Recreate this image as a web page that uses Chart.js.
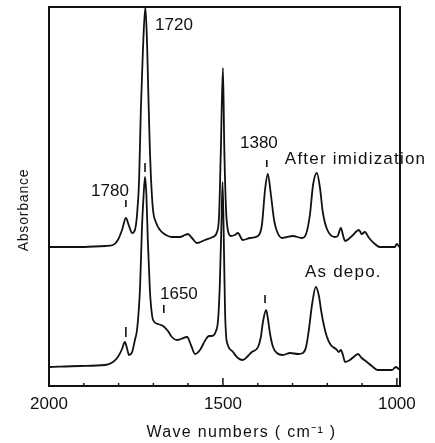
<!DOCTYPE html>
<html>
<head>
<meta charset="utf-8">
<script src="https://cdn.jsdelivr.net/npm/chart.js@4"></script>
<style>
  html, body { margin: 0; padding: 0; background: #fff; }
  .wrap { position: relative; width: 435px; height: 443px; }
</style>
</head>
<body>
<div class="wrap"><canvas id="spectrum"></canvas></div>
<script>
// IR spectra (wave number in cm-1, absorbance in arbitrary units)
const imidWave = [2000, 1911, 1839, 1816, 1802, 1790, 1779, 1770, 1761, 1753, 1747, 1741, 1736, 1730, 1723,
  1718, 1714, 1710, 1707, 1701, 1693, 1681, 1664, 1647, 1624, 1609, 1601, 1589, 1575, 1552, 1529, 1517, 1511,
  1506, 1500, 1496, 1491, 1486, 1477, 1466, 1457, 1443, 1422, 1399, 1388, 1379, 1371, 1362, 1353, 1345, 1330,
  1316, 1299, 1273, 1261, 1250, 1241, 1230, 1221, 1213, 1201, 1178, 1170, 1161, 1155, 1149, 1129, 1109, 1101,
  1092, 1080, 1063, 1049, 1006, 1000, 991];
const imidAbs = [1.39, 1.39, 1.40, 1.41, 1.46, 1.56, 1.68, 1.60, 1.53, 1.56, 1.71, 2.06, 2.76, 3.36, 3.79,
  3.41, 2.86, 2.36, 2.09, 1.76, 1.64, 1.56, 1.51, 1.49, 1.49, 1.51, 1.52, 1.48, 1.43, 1.46, 1.49, 1.54, 1.71,
  2.36, 3.18, 2.36, 1.76, 1.56, 1.50, 1.51, 1.53, 1.46, 1.48, 1.50, 1.61, 1.96, 2.12, 1.91, 1.66, 1.55, 1.48,
  1.49, 1.50, 1.48, 1.52, 1.71, 2.01, 2.13, 1.98, 1.74, 1.57, 1.49, 1.50, 1.58, 1.51, 1.45, 1.50, 1.56, 1.52,
  1.54, 1.48, 1.42, 1.39, 1.39, 1.42, 1.38];

const depoWave = [2000, 1911, 1839, 1816, 1802, 1790, 1782, 1776, 1770, 1761, 1753, 1747, 1741, 1738, 1733,
  1728, 1724, 1720, 1716, 1710, 1707, 1701, 1687, 1672, 1658, 1647, 1632, 1621, 1603, 1592, 1580, 1566, 1552,
  1540, 1532, 1520, 1514, 1509, 1504, 1501, 1497, 1494, 1491, 1486, 1471, 1457, 1443, 1428, 1417, 1399, 1391,
  1385, 1376, 1371, 1365, 1356, 1345, 1328, 1307, 1284, 1270, 1261, 1253, 1244, 1233, 1224, 1218, 1210, 1201,
  1190, 1175, 1167, 1161, 1155, 1149, 1135, 1121, 1112, 1101, 1086, 1072, 1055, 1014, 1003, 991];
const depoAbs = [0.19, 0.20, 0.21, 0.24, 0.29, 0.37, 0.44, 0.38, 0.31, 0.34, 0.46, 0.56, 0.81, 1.01, 1.56,
  1.91, 2.09, 1.91, 1.46, 0.96, 0.81, 0.66, 0.62, 0.60, 0.55, 0.49, 0.46, 0.47, 0.49, 0.41, 0.32, 0.36, 0.45,
  0.50, 0.50, 0.55, 0.66, 1.01, 1.66, 2.04, 1.36, 0.76, 0.51, 0.41, 0.34, 0.28, 0.26, 0.30, 0.34, 0.39, 0.49,
  0.64, 0.76, 0.68, 0.53, 0.39, 0.33, 0.31, 0.33, 0.32, 0.33, 0.39, 0.56, 0.81, 0.99, 0.90, 0.76, 0.61, 0.49,
  0.41, 0.37, 0.34, 0.36, 0.31, 0.24, 0.26, 0.30, 0.32, 0.28, 0.24, 0.20, 0.16, 0.16, 0.19, 0.16];

// axis ticks: marks every 100 cm-1, labels only at these
const tickValues = [2000, 1900, 1800, 1700, 1600, 1500, 1400, 1300, 1200, 1100, 1000];
const tickLabels = [2000, 1500, 1000];

// peak labels and the short marker lines (wave number, absorbance)
const noteText = ['1720', '1780', '1380', 'After imidization', '1650', 'As depo.'];
const noteWave = [1695, 1879, 1451, 1322, 1681, 1264];
const noteAbs = [3.61, 1.95, 2.43, 2.27, 0.92, 1.14];
const markWave = [1779, 1374, 1779, 1724, 1670, 1379];
const markTop = [1.86, 2.26, 0.59, 2.23, 0.81, 0.91];
const markBottom = [1.79, 2.19, 0.49, 2.14, 0.73, 0.83];

const INK = '#111';
const FONT = '"Liberation Sans", Arial, sans-serif';

const toPoints = (xs, ys) => xs.map((x, i) => ({ x, y: ys[i] }));

const decor = {
  id: 'decor',
  afterDraw(chart) {
    const { ctx, chartArea: area, scales: { x, y } } = chart;
    ctx.save();
    ctx.strokeStyle = INK;
    ctx.fillStyle = INK;

    // frame
    ctx.lineWidth = 2;
    ctx.strokeRect(area.left, area.top, area.right - area.left, area.bottom - area.top);

    // inward tick marks on the bottom axis
    ctx.lineWidth = 1.5;
    tickValues.forEach((v) => {
      const px = x.getPixelForValue(v);
      const len = tickLabels.includes(v) ? 8 : 3;
      ctx.beginPath();
      ctx.moveTo(px, area.bottom);
      ctx.lineTo(px, area.bottom - len);
      ctx.stroke();
    });

    // marker lines over the peaks
    ctx.lineWidth = 1.6;
    markWave.forEach((w, i) => {
      const px = x.getPixelForValue(w);
      ctx.beginPath();
      ctx.moveTo(px, y.getPixelForValue(markTop[i]));
      ctx.lineTo(px, y.getPixelForValue(markBottom[i]));
      ctx.stroke();
    });

    // peak and curve labels
    ctx.textAlign = 'left';
    ctx.textBaseline = 'middle';
    noteText.forEach((t, i) => {
      const isWord = /[a-z]/i.test(t);
      ctx.font = '17px ' + FONT;
      ctx.letterSpacing = isWord ? '1.2px' : '0px';
      ctx.fillText(t, x.getPixelForValue(noteWave[i]), y.getPixelForValue(noteAbs[i]));
    });

    // axis titles
    ctx.letterSpacing = '1.3px';
    ctx.font = '16px ' + FONT;
    ctx.textAlign = 'center';
    ctx.textBaseline = 'alphabetic';
    ctx.fillText('Wave numbers ( cm\u207B\u00B9 )', (area.left + area.right) / 2 + 17, chart.height - 6);

    ctx.letterSpacing = '0.8px';
    ctx.font = '14px ' + FONT;
    ctx.translate(28, 210);
    ctx.rotate(-Math.PI / 2);
    ctx.textBaseline = 'alphabetic';
    ctx.fillText('Absorbance', 0, 0);
    ctx.restore();
  }
};

const lineStyle = {
  borderColor: INK,
  borderWidth: 1.8,
  pointRadius: 0,
  fill: false,
  cubicInterpolationMode: 'monotone'
};

new Chart(document.getElementById('spectrum'), {
  type: 'line',
  data: {
    datasets: [
      { label: 'After imidization', data: toPoints(imidWave, imidAbs), ...lineStyle },
      { label: 'As depo.', data: toPoints(depoWave, depoAbs), ...lineStyle }
    ]
  },
  options: {
    responsive: true,
    maintainAspectRatio: false,
    animation: false,
    layout: { padding: { left: 49, top: 7, right: 35, bottom: 0 } },
    plugins: { legend: { display: false }, tooltip: { enabled: false } },
    scales: {
      x: {
        type: 'linear',
        reverse: true,
        min: 991,
        max: 2000,
        afterBuildTicks: (scale) => { scale.ticks = tickLabels.map((v) => ({ value: v })); },
        afterFit: (scale) => { scale.height = 57; },
        grid: { display: false, drawTicks: false },
        border: { display: false },
        ticks: {
          autoSkip: false,
          maxRotation: 0,
          padding: 8,
          color: INK,
          font: { family: FONT, size: 17 },
          callback: (v) => String(v)
        }
      },
      y: {
        display: false,
        min: 0,
        max: 3.79
      }
    }
  },
  plugins: [decor]
});
</script>
</body>
</html>
